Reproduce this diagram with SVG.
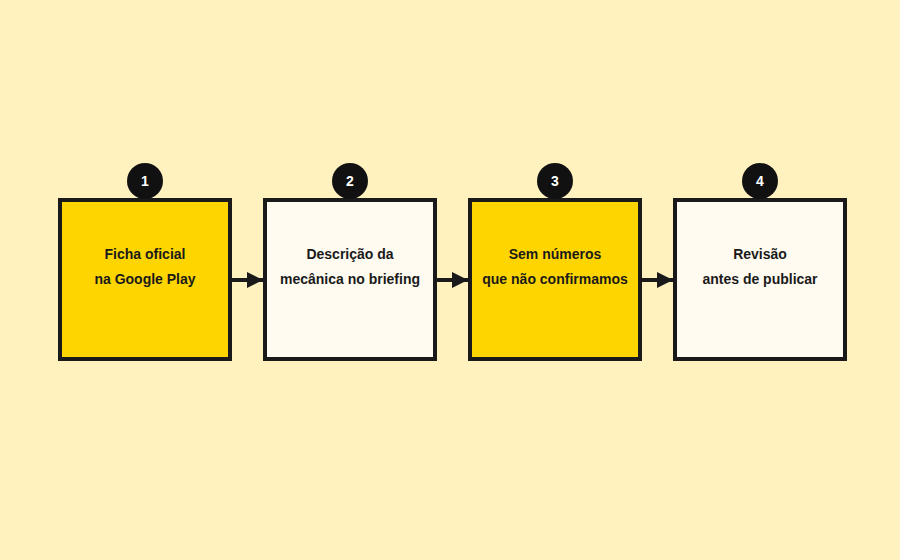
<svg xmlns="http://www.w3.org/2000/svg" width="900" height="560" viewBox="0 0 900 560">
<defs>
<style>
.box{stroke:#1a1a1a;stroke-width:4}
.y{fill:#ffd500}.w{fill:#fffbf0}
.t{font-family:"Liberation Sans",Arial,sans-serif;font-size:14px;font-weight:bold;fill:#1a1a1a;text-anchor:middle}
.n{font-family:"Liberation Sans",Arial,sans-serif;font-size:14px;font-weight:bold;fill:#fff;text-anchor:middle}
.c{stroke:#1a1a1a;stroke-width:4;fill:none}
</style>
<marker id="ah" viewBox="0 0 10 10" refX="10" refY="5" markerWidth="4" markerHeight="4" orient="auto" markerUnits="strokeWidth"><path d="M0,0L10,5L0,10z" fill="#1a1a1a"/></marker>
</defs>
<rect width="900" height="560" fill="#fff2bf"/>
<g id="connectors">
<line class="c" x1="232" y1="280" x2="263" y2="280" marker-end="url(#ah)"/>
<line class="c" x1="437" y1="280" x2="468" y2="280" marker-end="url(#ah)"/>
<line class="c" x1="642" y1="280" x2="673" y2="280" marker-end="url(#ah)"/>
</g>
<g id="n1"><rect class="box y" x="60" y="200" width="170" height="159"/><circle cx="145" cy="181" r="18" fill="#111"/><text class="n" x="145" y="186">1</text><text class="t" x="145" y="259">Ficha oficial</text><text class="t" x="145" y="284">na Google Play</text></g>
<g id="n2"><rect class="box w" x="265" y="200" width="170" height="159"/><circle cx="350" cy="181" r="18" fill="#111"/><text class="n" x="350" y="186">2</text><text class="t" x="350" y="259">Descrição da</text><text class="t" x="350" y="284">mecânica no briefing</text></g>
<g id="n3"><rect class="box y" x="470" y="200" width="170" height="159"/><circle cx="555" cy="181" r="18" fill="#111"/><text class="n" x="555" y="186">3</text><text class="t" x="555" y="259">Sem números</text><text class="t" x="555" y="284">que não confirmamos</text></g>
<g id="n4"><rect class="box w" x="675" y="200" width="170" height="159"/><circle cx="760" cy="181" r="18" fill="#111"/><text class="n" x="760" y="186">4</text><text class="t" x="760" y="259">Revisão</text><text class="t" x="760" y="284">antes de publicar</text></g>
</svg>
